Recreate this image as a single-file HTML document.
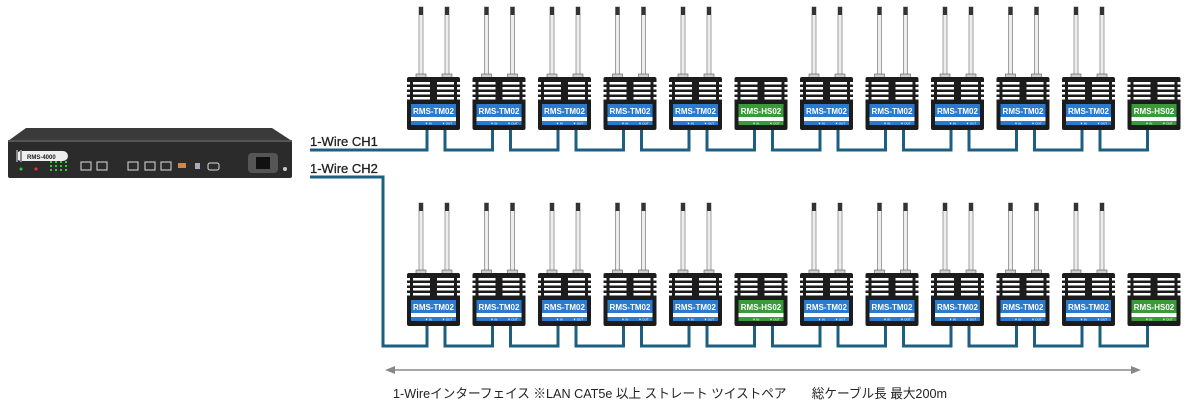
<!DOCTYPE html>
<html><head><meta charset="utf-8"><style>
html,body{margin:0;padding:0;background:#fff;width:1188px;height:405px;overflow:hidden}
svg{display:block}
text{font-family:"Liberation Sans","Noto Sans CJK JP",sans-serif}
</style></head><body>
<svg id="s" width="1188" height="405" viewBox="0 0 1188 405" xmlns="http://www.w3.org/2000/svg">
<polygon points="26,128 272,128 292,141 8,141" fill="#3a3a3a"/>
<rect x="8" y="140" width="284" height="38" fill="#2b2b2b" rx="2"/>
<rect x="8" y="140" width="284" height="2" fill="#555"/>
<rect x="16" y="151" width="52" height="10" rx="5" fill="#eee"/>
<rect x="16" y="150" width="2" height="12" fill="#888"/><rect x="20" y="150" width="2" height="12" fill="#888"/>
<text x="27" y="159" font-size="6" font-weight="bold" fill="#222">RMS-4000</text>
<circle cx="21" cy="169" r="1.5" fill="#3c3"/><circle cx="36" cy="169" r="1.5" fill="#e33"/>
<g fill="#3c3"><rect x="50" y="161" width="2" height="2"/><rect x="55" y="161" width="2" height="2"/><rect x="60" y="161" width="2" height="2"/><rect x="65" y="161" width="2" height="2"/><rect x="50" y="165" width="2" height="2"/><rect x="55" y="165" width="2" height="2"/><rect x="60" y="165" width="2" height="2"/><rect x="65" y="165" width="2" height="2"/><rect x="50" y="169" width="2" height="2"/><rect x="55" y="169" width="2" height="2"/><rect x="60" y="169" width="2" height="2"/><rect x="65" y="169" width="2" height="2"/></g>
<g fill="none" stroke="#ddd" stroke-width="1"><rect x="81" y="162" width="10" height="8"/><rect x="97" y="162" width="10" height="8"/><rect x="128" y="162" width="10" height="8"/><rect x="145" y="162" width="10" height="8"/><rect x="161" y="162" width="10" height="8"/><rect x="208" y="163" width="11" height="7" rx="2"/></g>
<rect x="178" y="163" width="8" height="5" fill="#c84"/><rect x="195" y="163" width="5" height="6" fill="#aab"/>
<rect x="248" y="153" width="30" height="20" rx="4" fill="#555"/><rect x="256" y="157" width="14" height="12" fill="#111"/>
<circle cx="285" cy="169" r="2" fill="#ccc"/>
<text x="310" y="146" font-size="13" fill="#222" stroke="#222" stroke-width="0.3">1-Wire CH1</text>
<text x="310" y="173" font-size="13" fill="#222" stroke="#222" stroke-width="0.3">1-Wire CH2</text>
<g id="conn" fill="none" stroke="#1d5f80" stroke-width="3"></g>
<g id="dev"></g>
<line x1="392" y1="370" x2="1134" y2="370" stroke="#888" stroke-width="1.5"/>
<polygon points="385,370 395,366 395,374" fill="#888"/><polygon points="1141,370 1131,366 1131,374" fill="#888"/>
<text x="393" y="398" font-size="13" fill="#222" textLength="554" lengthAdjust="spacingAndGlyphs">1-Wireインターフェイス ※LAN CAT5e 以上 ストレート ツイストペア　　総ケーブル長 最大200m</text>
</svg>
<script>
var NS="http://www.w3.org/2000/svg",dev=document.getElementById('dev'),conn=document.getElementById('conn');
function el(t,a,p,txt){var e=document.createElementNS(NS,t);for(var k in a)e.setAttribute(k,a[k]);if(txt)e.textContent=txt;(p||dev).appendChild(e);return e;}
var rows=[{y:77,cy:150},{y:273,cy:346}];
var names=["RMS-TM02","RMS-TM02","RMS-TM02","RMS-TM02","RMS-TM02","RMS-HS02","RMS-TM02","RMS-TM02","RMS-TM02","RMS-TM02","RMS-TM02","RMS-HS02"];
rows.forEach(function(r,ri){
 var d="";
 if(ri==0) d+="M310 "+r.cy+" H"+(407+20)+" V"+(r.y+53);
 else d+="M310 177 H383 V"+r.cy+" H"+(407+20)+" V"+(r.y+53);
 for(var i=0;i<12;i++){
  var x=407+i*65.5,y=r.y,hs=names[i].indexOf("HS")>0;
  if(i<11){var nx=407+(i+1)*65.5;d+=" M"+(x+38)+" "+(y+53)+" V"+r.cy+" H"+(nx+20)+" V"+(y+53);}
  if(!hs){[x+14,x+40].forEach(function(px){el('rect',{x:px-2,y:y-70,width:4,height:68,fill:'#eee',stroke:'#8a8a8a','stroke-width':0.8});el('rect',{x:px-2,y:y-70,width:4,height:8,fill:'#333'});el('rect',{x:px-5,y:y-3,width:10,height:4,fill:'#ccc',stroke:'#555','stroke-width':0.6});});}
  el('rect',{x:x,y:y,width:53,height:53,fill:'#1c1c1c',rx:2});
  for(var f=0;f<4;f++){el('rect',{x:x+6,y:y+5+f*5,width:17,height:2.5,fill:'#fff'});el('rect',{x:x+30,y:y+5+f*5,width:17,height:2.5,fill:'#fff'});
   el('rect',{x:x,y:y+5+f*5,width:3,height:2.5,fill:'#fff'});el('rect',{x:x+50,y:y+5+f*5,width:3,height:2.5,fill:'#fff'});}
  var c=hs?'#3a9a3a':'#2a7bd0';
  el('rect',{x:x+4,y:y+27,width:45,height:21,fill:c});
  el('rect',{x:x+4,y:y+40,width:45,height:4,fill:'#fff'});
  el('text',{x:x+26.5,y:y+37,'font-size':8,'font-weight':'bold',fill:'#fff','text-anchor':'middle'},dev,names[i]);
  el('text',{x:x+18,y:y+47.3,'font-size':3,fill:'#fff'},dev,"▼ IN");el('text',{x:x+35,y:y+47.3,'font-size':3,fill:'#fff'},dev,"▼ OUT");
 }
 el('path',{d:d},conn);
});
</script>
</body></html>
